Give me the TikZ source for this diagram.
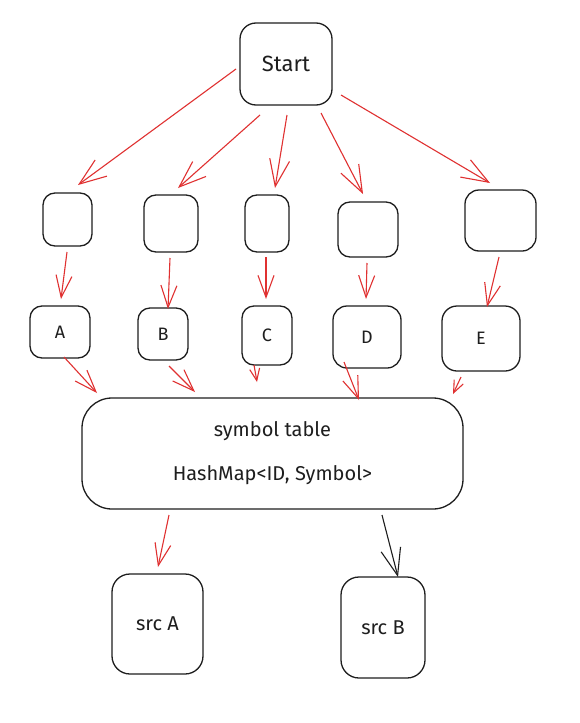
\documentclass[tikz,border=0pt]{standalone}
\usepackage{fontspec}
\setmainfont{Fira Sans}
\usetikzlibrary{arrows.meta}
\definecolor{ink}{HTML}{1E1E1E}
\definecolor{redline}{HTML}{E03131}
\begin{document}
\begin{tikzpicture}[x=1pt,y=-1pt,
  box/.style={draw=ink, line width=1.3pt, rounded corners=12pt, inner sep=0pt, text=ink, font=\fontsize{18}{20}\selectfont},
  arr/.style={draw=redline, line width=1.1pt, -{Straight Barb[length=22pt,width=16pt]}},
  bigarr/.style={arr, -{Straight Barb[length=27pt,width=20pt]}},
  smallarr/.style={arr, -{Straight Barb[length=12pt,width=10pt]}},
  blackarr/.style={arr, draw=ink, -{Straight Barb[length=27pt,width=20pt]}}
]
\useasboundingbox (0,0) rectangle (579,723);
\fill[white] (0,0) rectangle (579,723);
% nodes
\node[box, minimum width=92pt, minimum height=82pt, rounded corners=16pt, font=\fontsize{22}{24}\selectfont] (start) at (286,64) {Start};
\node[box, minimum width=49pt, minimum height=53pt] (m1) at (67.5,219.5) {};
\node[box, minimum width=54pt, minimum height=57pt] (m2) at (171,223.5) {};
\node[box, minimum width=44pt, minimum height=57pt] (m3) at (267,223.5) {};
\node[box, minimum width=60pt, minimum height=55pt] (m4) at (368,229.5) {};
\node[box, minimum width=71pt, minimum height=61pt, rounded corners=14pt] (m5) at (500.5,220.5) {};
\node[box, minimum width=60pt, minimum height=52pt] (a) at (60,332) {A};
\node[box, minimum width=50pt, minimum height=52pt] (b) at (163,334) {B};
\node[box, minimum width=50pt, minimum height=59pt] (c) at (267,335.5) {C};
\node[box, minimum width=68pt, minimum height=62pt, rounded corners=14pt] (d) at (367,337) {D};
\node[box, minimum width=78pt, minimum height=65pt, rounded corners=15pt] (e) at (481,338.5) {E};
\node[box, minimum width=381pt, minimum height=111pt, rounded corners=30pt, align=center, font=\fontsize{20}{44}\selectfont] (sym) at (272.5,453.5) {symbol table\\HashMap<ID, Symbol>};
\node[box, minimum width=91pt, minimum height=100pt, rounded corners=18pt, font=\fontsize{20}{22}\selectfont] (srca) at (157.5,624) {src A};
\node[box, minimum width=84pt, minimum height=101pt, rounded corners=18pt, font=\fontsize{20}{22}\selectfont] (srcb) at (383,627.5) {src B};
% start to middle row
\draw[bigarr] ([shift={(-50,5)}]start.center) -- ([shift={(10.5,-34.5)}]m1.center);
\draw[bigarr] ([shift={(-26,51)}]start.center) -- ([shift={(7,-35.5)}]m2.center);
\draw[bigarr] ([shift={(1,51)}]start.center) -- ([shift={(8,-35.5)}]m3.center);
\draw[bigarr] ([shift={(35,49)}]start.center) -- ([shift={(-5,-35.5)}]m4.center);
\draw[bigarr] ([shift={(55,31)}]start.center) -- ([shift={(-10.5,-37.5)}]m5.center);
% middle row to letters
\draw[arr] ([shift={(-0.5,32.5)}]m1.center) -- ([shift={(1,-33)}]a.center);
\draw[arr] ([shift={(-1,34.5)}]m2.center) -- ([shift={(5,-25)}]b.center);
\draw[arr] ([shift={(-1,33.5)}]m3.center) -- ([shift={(-1,-36.5)}]c.center);
\draw[arr] ([shift={(-1,33.5)}]m4.center) -- ([shift={(-1,-38)}]d.center);
\draw[arr] ([shift={(-1.5,36.5)}]m5.center) -- ([shift={(6,-31.5)}]e.center);
% letters to symbol table
\draw[arr] ([shift={(4,25)}]a.center) -- ([shift={(-175.5,-60.5)}]sym.center);
\draw[arr] ([shift={(6,32)}]b.center) -- ([shift={(-77.5,-61.5)}]sym.center);
\draw[smallarr] ([shift={(-13,29.5)}]c.center) -- ([shift={(-15.5,-71.5)}]sym.center);
\draw[arr] ([shift={(-23,25)}]d.center) -- ([shift={(86.5,-53.5)}]sym.center);
\draw[smallarr] ([shift={(-20,38.5)}]e.center) -- ([shift={(180.5,-59.5)}]sym.center);
% symbol table to sources
\draw[arr] ([shift={(-103.5,61.5)}]sym.center) -- ([shift={(0.5,-57)}]srca.center);
\draw[blackarr] ([shift={(109.5,61.5)}]sym.center) -- ([shift={(15,-50.5)}]srcb.center);
\end{tikzpicture}
\end{document}
